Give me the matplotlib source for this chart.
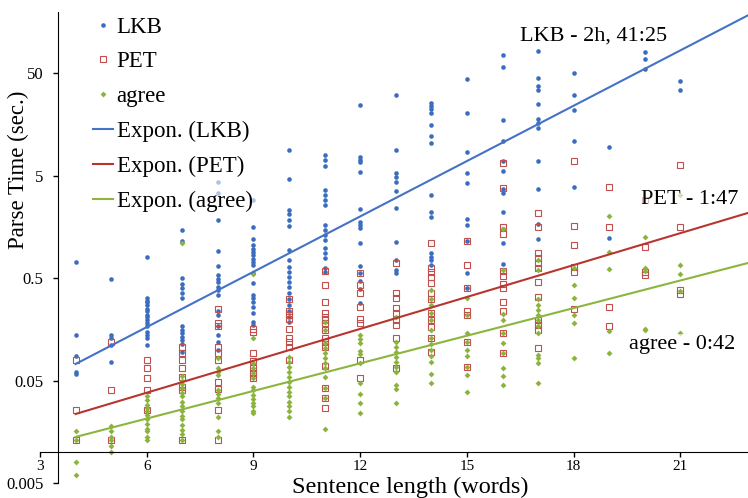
import numpy as np
import matplotlib.pyplot as plt

plt.rcParams['font.family'] = ['Liberation Serif', 'DejaVu Serif']

# sentence length (words) for each column of points
lengths = list(range(4, 22))

# parse times in seconds, one list per sentence length
lkb_times = [
    [0.72, 0.14, 0.087, 0.060, 0.058],
    [0.49, 0.14, 0.13, 0.11, 0.076],
    [0.80, 0.32, 0.30, 0.29, 0.27, 0.25, 0.24, 0.22, 0.21, 0.195, 0.18, 0.17, 0.15, 0.14, 0.13, 0.11],
    [1.47, 1.15, 0.50, 0.44, 0.40, 0.36, 0.32, 0.17, 0.155, 0.145, 0.133, 0.124, 0.114, 0.095],
    [4.3, 3.4, 1.84, 0.92, 0.65, 0.53, 0.49, 0.46, 0.41, 0.38, 0.34, 0.24, 0.22, 0.17, 0.14, 0.12, 0.10],
    [2.9, 1.58, 1.2, 1.05, 0.96, 0.90, 0.83, 0.76, 0.72, 0.67, 0.56, 0.45, 0.34, 0.32, 0.29, 0.26, 0.23, 0.185, 0.175],
    [8.9, 4.6, 2.3, 2.1, 1.84, 1.6, 0.94, 0.75, 0.64, 0.57, 0.51, 0.46, 0.41, 0.36, 0.31, 0.27, 0.24, 0.21, 0.185],
    [7.9, 7.1, 6.2, 3.6, 3.2, 2.9, 2.6, 1.65, 1.47, 1.31, 1.17, 0.98, 0.88, 0.79, 0.63, 0.57],
    [24.4, 7.5, 7.1, 6.7, 5.4, 2.35, 1.76, 1.64, 1.54, 1.09, 0.65, 0.56, 0.47, 0.39, 0.285],
    [30.5, 8.9, 5.3, 4.8, 4.3, 3.5, 2.4, 1.12, 0.75, 0.60, 0.56],
    [25.5, 23.7, 22.2, 20.4, 15.6, 12.1, 10.4, 3.2, 2.2, 1.97, 0.88, 0.80, 0.75, 0.67],
    [43.7, 20.4, 8.4, 5.3, 4.2, 1.88, 1.64, 1.14, 0.56, 0.40],
    [75, 57, 17.4, 10.9, 7.0, 5.5, 3.7, 3.4, 2.2, 1.5, 1.1, 0.69],
    [82, 44.6, 37.3, 34.1, 24.9, 17.8, 16.3, 14.5, 6.9, 3.7, 1.68, 1.2],
    [50, 30.5, 21.8, 10.9, 3.9],
    [9.5, 1.23],
    [80, 68, 55],
    [41.8, 34.1],
]

pet_times = [
    [0.079, 0.026, 0.013],
    [0.12, 0.040, 0.013],
    [0.079, 0.066, 0.053, 0.040, 0.026],
    [0.106, 0.093, 0.079, 0.066, 0.054, 0.043, 0.040, 0.013],
    [0.25, 0.18, 0.17, 0.106, 0.093, 0.079, 0.048, 0.041, 0.026, 0.013],
    [0.16, 0.15, 0.093, 0.077, 0.066, 0.059, 0.053],
    [0.31, 0.24, 0.22, 0.20, 0.16, 0.13, 0.12, 0.106, 0.079],
    [0.58, 0.43, 0.29, 0.23, 0.21, 0.195, 0.18, 0.155, 0.13, 0.12, 0.106, 0.070, 0.042, 0.034, 0.027],
    [0.56, 0.43, 0.36, 0.26, 0.20, 0.18, 0.079, 0.053],
    [0.70, 0.36, 0.32, 0.255, 0.23, 0.195, 0.174, 0.13, 0.066],
    [1.1, 0.63, 0.57, 0.51, 0.45, 0.36, 0.31, 0.23, 0.195, 0.167, 0.13, 0.095],
    [1.14, 0.67, 0.40, 0.24, 0.22, 0.12, 0.067],
    [6.6, 3.8, 1.58, 1.34, 0.58, 0.52, 0.44, 0.40, 0.29, 0.24, 0.145, 0.093],
    [2.15, 1.58, 0.87, 0.79, 0.70, 0.63, 0.46, 0.33, 0.195, 0.174, 0.155, 0.104],
    [6.9, 1.60, 1.06, 0.64, 0.57, 0.25],
    [3.9, 1.58, 0.26, 0.17],
    [2.9, 1.0, 0.57, 0.53],
    [6.3, 1.58, 0.38, 0.35],
]

agree_times = [
    [0.016, 0.013, 0.008, 0.006],
    [0.018, 0.016, 0.014, 0.013, 0.0115, 0.010],
    [0.035, 0.032, 0.029, 0.027, 0.025, 0.023, 0.021, 0.019, 0.017, 0.016, 0.014, 0.013],
    [1.1, 0.055, 0.050, 0.046, 0.042, 0.038, 0.035, 0.031, 0.028, 0.025, 0.0225, 0.021, 0.0185, 0.0165, 0.015, 0.013],
    [0.083, 0.066, 0.061, 0.056, 0.040, 0.037, 0.034, 0.030, 0.022, 0.016, 0.014],
    [0.55, 0.13, 0.074, 0.066, 0.059, 0.053, 0.043, 0.040, 0.036, 0.033, 0.030, 0.028, 0.025, 0.024],
    [0.085, 0.076, 0.068, 0.060, 0.054, 0.048, 0.043, 0.039, 0.035, 0.031, 0.028, 0.025, 0.022],
    [0.185, 0.155, 0.117, 0.104, 0.093, 0.083, 0.074, 0.066, 0.054, 0.042, 0.034, 0.017],
    [0.14, 0.127, 0.116, 0.097, 0.090, 0.074, 0.047, 0.037, 0.030, 0.024],
    [0.21, 0.12, 0.106, 0.095, 0.085, 0.076, 0.067, 0.060, 0.045, 0.041, 0.030],
    [0.38, 0.31, 0.27, 0.23, 0.195, 0.155, 0.13, 0.114, 0.10, 0.087, 0.076, 0.058, 0.047],
    [0.32, 0.22, 0.145, 0.12, 0.10, 0.086, 0.067, 0.056, 0.039],
    [1.5, 0.60, 0.225, 0.195, 0.145, 0.116, 0.093, 0.066, 0.055, 0.045],
    [0.75, 0.60, 0.31, 0.27, 0.245, 0.22, 0.195, 0.17, 0.145, 0.089, 0.083, 0.074, 0.047],
    [0.63, 0.43, 0.32, 0.22, 0.18, 0.083],
    [2.0, 0.90, 0.61, 0.152, 0.093],
    [1.26, 0.63, 0.59, 0.16, 0.155],
    [3.2, 0.67, 0.55, 0.37, 0.145],
]

# exponential trendlines y = c * exp(b * x)
trend_lkb = (0.0138, 0.4145)
trend_pet = (0.00906, 0.239)
trend_agree = (0.00615, 0.2068)

labels = ["LKB - 2h, 41:25", "PET - 1:47", "agree - 0:42"]

blue = '#3A6DBE'
red = '#C0504D'
green = '#8BB33E'


def flatten(times):
    xs, ys = [], []
    for n, vals in zip(lengths, times):
        xs += [n] * len(vals)
        ys += vals
    return xs, ys


fig = plt.figure(figsize=(7.48, 4.98), dpi=100)
ax = fig.add_axes([40 / 748, 15 / 498, 708 / 748, 471 / 498])

x, y = flatten(lkb_times)
ax.plot(x, y, 'o', color=blue, markersize=3.3, markeredgewidth=0, label='LKB')
x, y = flatten(pet_times)
ax.plot(x, y, 's', markerfacecolor='none', markeredgecolor=red, markersize=4.5,
        markeredgewidth=0.8, label='PET')
x, y = flatten(agree_times)
ax.plot(x, y, 'D', color=green, markersize=3, markeredgewidth=0, label='agree')

xx = np.linspace(4, 23, 50)
for (c, b), col, name in [(trend_lkb, '#4472C4', 'Expon. (LKB)'),
                          (trend_pet, '#B8352F', 'Expon. (PET)'),
                          (trend_agree, '#8DB53E', 'Expon. (agree)')]:
    ax.plot(xx, c * np.exp(b * xx), color=col, linewidth=1.5, label=name)

ax.set_yscale('log')
ax.set_xlim(3, 22.9)
ax.set_ylim(0.005, 197)
ax.set_yticks([0.005, 0.05, 0.5, 5, 50])
ax.set_yticklabels(['0.005', '0.05', '0.5', '5', '50'])
ax.yaxis.set_minor_locator(plt.NullLocator())
ax.set_xticks([3, 6, 9, 12, 15, 18, 21])

ax.spines['left'].set_position(('data', 3.5))
ax.spines['bottom'].set_position(('data', 0.01))
ax.spines['top'].set_visible(False)
ax.spines['right'].set_visible(False)
ax.tick_params(axis='both', length=3.8, width=1, direction='out')
ax.tick_params(axis='y', labelsize=12, pad=6.5)
ax.tick_params(axis='x', labelsize=11, pad=2)

fig.text(18 / 748, 1 - 170 / 498, 'Parse Time (sec.)', fontsize=16.5, rotation=90,
         ha='center', va='center')
fig.text(410 / 748, 1 - 493 / 498, 'Sentence length (words)', fontsize=17.5,
         ha='center', va='baseline')

ax.text(594 / 748, 1 - 36 / 498, labels[0], transform=fig.transFigure, fontsize=16,
        ha='center', va='center')
ax.text(690 / 748, 1 - 200 / 498, labels[1], transform=fig.transFigure, fontsize=16,
        ha='center', va='center',
        bbox=dict(facecolor='white', edgecolor='none', alpha=0.6, pad=1))
ax.text(682 / 748, 1 - 345 / 498, labels[2], transform=fig.transFigure, fontsize=16,
        ha='center', va='center',
        bbox=dict(facecolor='white', edgecolor='none', alpha=0.6, pad=1))

leg = ax.legend(loc='upper left', bbox_to_anchor=(88 / 748, 1 - 12 / 498),
                bbox_transform=fig.transFigure, fontsize=16.5, frameon=True,
                framealpha=0.6, edgecolor='none', fancybox=False, numpoints=1,
                handlelength=0.9, handletextpad=0.15, labelspacing=0.6,
                borderpad=0.2, borderaxespad=0)

fig.savefig('out.png', dpi=100)
